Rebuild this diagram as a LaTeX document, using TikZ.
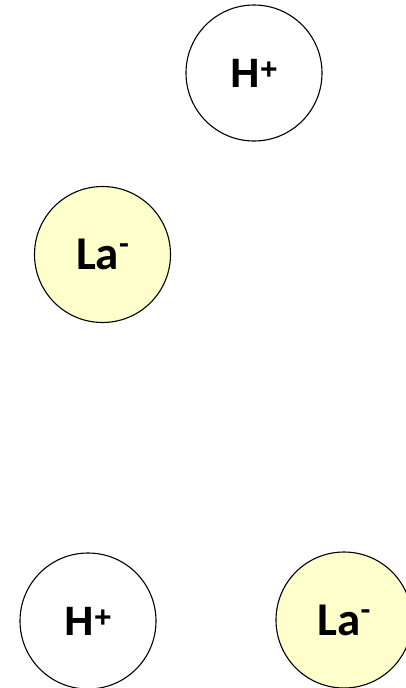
\documentclass[tikz,border=0pt]{standalone}
\usepackage{fontspec}
\setmainfont{Carlito}
\newfontfamily\arialfont{Liberation Sans}
\definecolor{ionyellow}{HTML}{FFFFCC}
\newcommand{\hplus}{H\raisebox{8pt}{\fontsize{30}{30}\selectfont+}}
\newcommand{\laminus}{La\raisebox{15pt}{\fontsize{32}{32}\selectfont-}}
\begin{document}
\begin{tikzpicture}[x=1pt,y=-1pt,
  ion/.style={circle,draw=black,line width=1.1pt,minimum size=136pt,inner sep=0pt},
  cation/.style={ion,fill=white,font=\arialfont\bfseries\fontsize{41}{41}\selectfont},
  anion/.style={ion,fill=ionyellow,font=\bfseries\fontsize{47}{47}\selectfont}]
\useasboundingbox (0,0) rectangle (405,688);
\fill[white] (0,0) rectangle (405,688);
\node[cation] (h1) at (254,73) {\hplus};
\node[anion] (la1) at (102.5,254.5) {\laminus};
\node[cation] (h2) at (88,621) {\hplus};
\node[anion] (la2) at (344,620) {\laminus};
\end{tikzpicture}
\end{document}
